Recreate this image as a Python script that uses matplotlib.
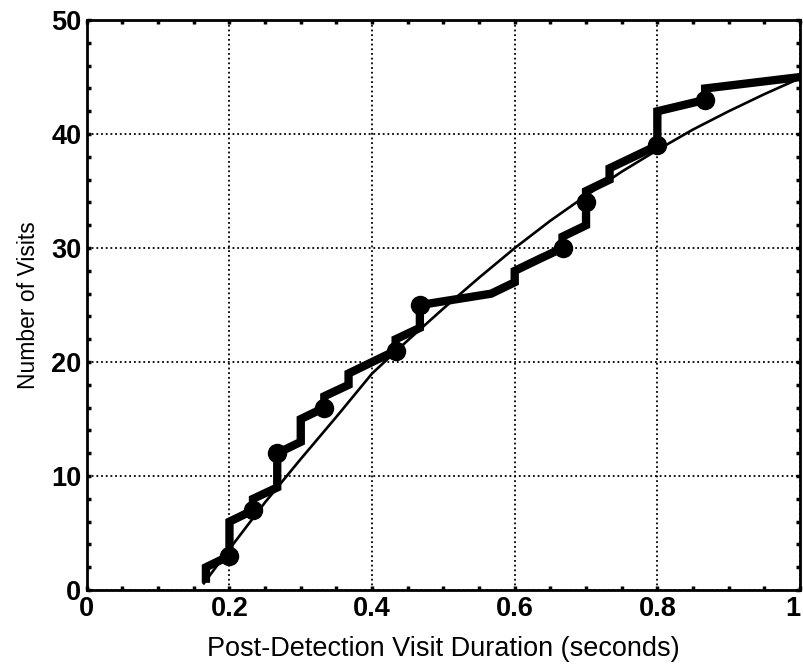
import matplotlib
matplotlib.use("Agg")
import matplotlib.pyplot as plt
from matplotlib.ticker import MultipleLocator

# Empirical cumulative step line (duration in s, cumulative visits)
step_x = [0.167, 0.167, 0.2, 0.2, 0.233, 0.233, 0.267, 0.267, 0.3, 0.3, 0.333, 0.333,
          0.367, 0.367, 0.4, 0.433, 0.433, 0.467, 0.467, 0.567, 0.6, 0.6, 0.633, 0.667,
          0.667, 0.7, 0.7, 0.7, 0.733, 0.733, 0.8, 0.8, 0.867, 0.867, 1.0]
step_y = [1, 2, 3, 6, 7, 8, 9, 12, 13, 15, 16, 17,
          18, 19, 20, 21, 22, 23, 25, 26, 27, 28, 29, 30,
          31, 32, 34, 35, 36, 37, 39, 42, 43, 44, 45]

# Marked points
mark_x = [0.2, 0.233, 0.267, 0.333, 0.433, 0.467, 0.667, 0.7, 0.8, 0.867]
mark_y = [3, 7, 12, 16, 21, 25, 30, 34, 39, 43]

# Smooth fitted curve
fit_x = [0.163, 0.2, 0.25, 0.3, 0.35, 0.4, 0.45, 0.5, 0.55, 0.6, 0.65, 0.7,
         0.75, 0.8, 0.85, 0.9, 0.95, 1.0]
fit_y = [0.5, 3.6, 7.7, 11.5, 15.2, 19.0, 21.9, 24.7, 27.4, 30.0, 32.4, 34.6,
         36.7, 38.6, 40.4, 42.0, 43.5, 44.9]

x_ticks = [0, 0.2, 0.4, 0.6, 0.8, 1]
x_tick_labels = ["0", "0.2", "0.4", "0.6", "0.8", "1"]
y_ticks = [0, 10, 20, 30, 40, 50]
y_tick_labels = ["0", "10", "20", "30", "40", "50"]

plt.rcParams['font.family'] = ['Liberation Sans', 'DejaVu Sans']

fig = plt.figure(figsize=(8.04, 6.69), dpi=100)
ax = fig.add_axes([0.108, 0.118, 0.887, 0.852])

ax.plot(fit_x, fit_y, color='black', lw=1.9, solid_capstyle='butt', zorder=3)
ax.plot(step_x, step_y, color='black', lw=6.0, solid_joinstyle='miter', zorder=4)
ax.plot(mark_x, mark_y, 'o', color='black', ms=13, zorder=5)

ax.set_xlim(0, 1)
ax.set_ylim(0, 50)
ax.set_xticks(x_ticks)
ax.set_xticklabels(x_tick_labels)
ax.set_yticks(y_ticks)
ax.set_yticklabels(y_tick_labels)
ax.xaxis.set_minor_locator(MultipleLocator(0.05))
ax.yaxis.set_minor_locator(MultipleLocator(2))

ax.grid(True, which='major', color='black', linestyle=(0, (1, 1.6)), lw=1.3)
for s in ax.spines.values():
    s.set_linewidth(2)
    s.set_color('black')

ax.tick_params(which='both', direction='in', top=True, right=True,
               length=3, width=2.5, color='black')
ax.tick_params(which='major', labelsize=19.5, pad=4)
for lab in ax.get_xticklabels() + ax.get_yticklabels():
    lab.set_fontweight('bold')
# keep the last x label inside the figure
ax.get_xticklabels()[-1].set_horizontalalignment('right')

ax.set_xlabel("Post-Detection Visit Duration (seconds)", fontsize=19.5, labelpad=10)
ax.set_ylabel("Number of Visits", fontsize=16.5, labelpad=8)

fig.savefig("out.png", dpi=100)
